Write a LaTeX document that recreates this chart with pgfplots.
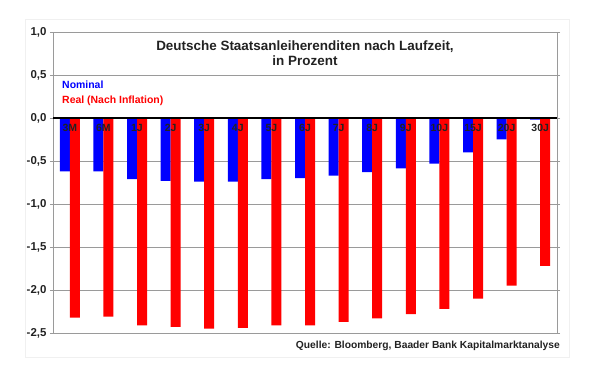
\documentclass[border=0pt]{standalone}
\usepackage{pgfplots}
\pgfplotsset{compat=1.18}
\usepackage{fontspec}
\setmainfont{Liberation Sans}
\definecolor{txt}{HTML}{222222}
\definecolor{gridc}{HTML}{9A9A9A}
\tikzset{xl/.style={font=\bfseries\fontsize{10.5}{12}\selectfont, text=txt, anchor=north, inner sep=0pt, yshift=-6bp}}
\begin{document}
\begin{tikzpicture}
\path[use as bounding box] (0,0) rectangle (605bp,368bp);
\draw[gray!12, line width=0.8bp] (25bp,11bp) rectangle (569bp,349bp);
\begin{axis}[
  at={(53bp,35bp)}, anchor=south west,
  scale only axis, width=504bp, height=301bp,
  xmin=-0.5, xmax=14.5, ymin=-2.5, ymax=1,
  ybar=0pt, bar width=10bp,
  xtick={0,...,14},
  xticklabels={},
  xtick style={draw=none},
  ytick={-2.5,-2,...,1},
  ytick style={draw=gridc, line width=0.9bp},
  tick align=outside, major tick length=3bp,
  yticklabel style={font=\bfseries\fontsize{11.5}{13}\selectfont, text=txt},
  /pgf/number format/.cd, use comma, fixed, fixed zerofill, precision=1, assume math mode=true,
  /pgfplots/.cd,
  ymajorgrids, grid style={gridc, line width=0.9bp},
  axis line style={gridc, line width=0.9bp},
  clip=false,
]
\addplot[fill=blue, draw=none] coordinates {
(0,-0.62) (1,-0.62) (2,-0.71) (3,-0.73) (4,-0.74) (5,-0.74) (6,-0.71)
(7,-0.70) (8,-0.67) (9,-0.63) (10,-0.585) (11,-0.53) (12,-0.40) (13,-0.25) (14,-0.02)};
\addplot[fill=red, draw=none] coordinates {
(0,-2.32) (1,-2.31) (2,-2.41) (3,-2.43) (4,-2.45) (5,-2.44) (6,-2.41)
(7,-2.41) (8,-2.37) (9,-2.33) (10,-2.28) (11,-2.22) (12,-2.10) (13,-1.95) (14,-1.72)};
\draw[black, line width=1.2bp] (axis cs:-0.5,0) -- (axis cs:14.5,0);
\pgfplotsinvokeforeach{0,...,13}{
  \draw[black, line width=1bp] (axis cs:#1+0.5,0) ++(0,1bp) -- ++(0,-4bp);
}
\node[xl] at (axis cs:0,0) {3M};
\node[xl] at (axis cs:1,0) {6M};
\node[xl] at (axis cs:2,0) {1J};
\node[xl] at (axis cs:3,0) {2J};
\node[xl] at (axis cs:4,0) {3J};
\node[xl] at (axis cs:5,0) {4J};
\node[xl] at (axis cs:6,0) {5J};
\node[xl] at (axis cs:7,0) {6J};
\node[xl] at (axis cs:8,0) {7J};
\node[xl] at (axis cs:9,0) {8J};
\node[xl] at (axis cs:10,0) {9J};
\node[xl] at (axis cs:11,0) {10J};
\node[xl] at (axis cs:12,0) {15J};
\node[xl] at (axis cs:13,0) {20J};
\node[xl] at (axis cs:14,0) {30J};
\end{axis}
\node[font=\bfseries\fontsize{13.5}{15.3}\selectfont, text=txt, align=center] at (305bp,315bp)
  {Deutsche Staatsanleiherenditen nach Laufzeit,\\in Prozent};
\node[font=\bfseries\fontsize{10.5}{12}\selectfont, text=blue, anchor=west, inner sep=0pt] at (62bp,283bp) {Nominal};
\node[font=\bfseries\fontsize{10.5}{12}\selectfont, text=red, anchor=west, inner sep=0pt] at (62bp,267.3bp) {Real (Nach Inflation)};
\node[font=\bfseries\fontsize{10.3}{12}\selectfont, text=txt, anchor=east, inner sep=0pt] at (560bp,22.3bp) {Quelle: Bloomberg, Baader Bank Kapitalmarktanalyse};
\end{tikzpicture}
\end{document}
